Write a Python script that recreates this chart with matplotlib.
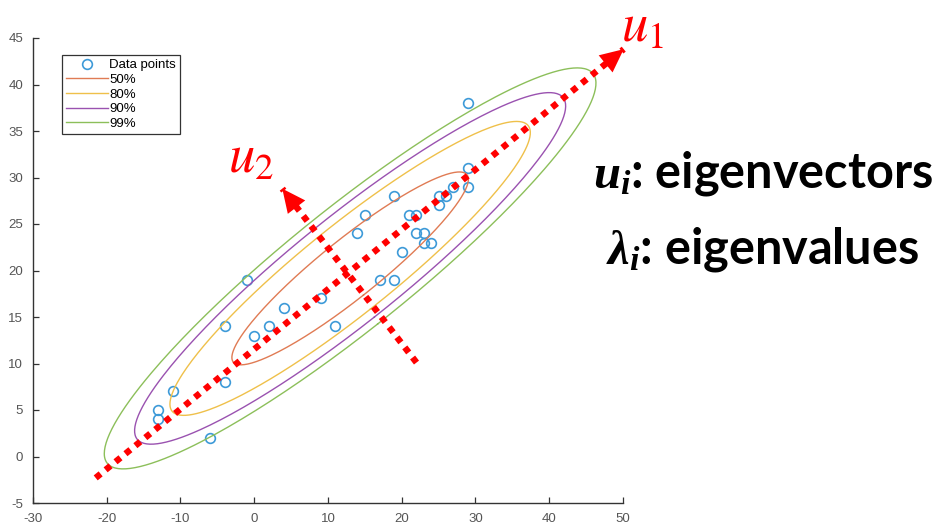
import numpy as np
import matplotlib
matplotlib.use("Agg")
import matplotlib.pyplot as plt

# data points
xs = np.array([29, 29, 29, 27, 19, 25, 26, 25, 15, 21, 22, 14, 22, 23, 23, 24,
               20, 17, 19, -1, 9, 4, -4, 2, 11, 0, -4, -11, -13, -13, -6])
ys = np.array([38, 31, 29, 29, 28, 28, 28, 27, 26, 26, 26, 24, 24, 24, 23, 23,
               22, 19, 19, 19, 17, 16, 14, 14, 14, 13, 8, 7, 5, 4, 2])

level_labels = ["50%", "80%", "90%", "99%"]
# squared Mahalanobis radius of each contour, as drawn in the picture
level_chi2 = [1.386, 3.219, 4.605, 5.991]
level_colors = ["#e07b54", "#efc04a", "#9a52b0", "#8cbf5a"]
point_color = "#3d9ad8"

# eigenvector arrows (drawn by hand on the slide)
u1_start, u1_tip = (-21.5, -2.3), (50.1, 43.8)
u2_start, u2_tip = (22.0, 10.1), (3.8, 28.8)

xticks = [-30, -20, -10, 0, 10, 20, 30, 40, 50]
yticks = [-5, 0, 5, 10, 15, 20, 25, 30, 35, 40, 45]

plt.rcParams['axes.unicode_minus'] = False
plt.rcParams['mathtext.fontset'] = 'stix'
plt.rcParams['mathtext.it'] = 'Liberation Serif:italic:bold'
plt.rcParams['mathtext.rm'] = 'Liberation Serif:bold'

fig = plt.figure(figsize=(9.48, 5.25), dpi=100)
ax = fig.add_axes([33/948, 22/525, 590/948, 465/525])

ax.plot(xs, ys, 'o', ms=7, mfc='none', mec=point_color, mew=1.2,
        label="Data points")

mu = np.array([xs.mean(), ys.mean()])
cov = np.cov(xs, ys)
vals, vecs = np.linalg.eigh(cov)
t = np.linspace(0, 2*np.pi, 300)
circ = np.vstack([np.cos(t), np.sin(t)])
for k2, lab, c in zip(level_chi2, level_labels, level_colors):
    e = vecs @ (np.sqrt(vals)[:, None] * circ) * np.sqrt(k2)
    ax.plot(mu[0] + e[0], mu[1] + e[1], color=c, lw=1.0, label=lab)

ax.set_xlim(-30, 50)
ax.set_ylim(-5, 45)
ax.set_xticks(xticks)
ax.set_yticks(yticks)
for s in ['top', 'right']:
    ax.spines[s].set_visible(False)
for s in ['left', 'bottom']:
    ax.spines[s].set_color('#333333')
    ax.spines[s].set_linewidth(1.0)
ax.tick_params(direction='in', length=4, width=0.9, color='#333333',
               labelcolor='#555555', labelsize=9.5, pad=7)
for lbl in ax.get_xticklabels() + ax.get_yticklabels():
    lbl.set_family('Liberation Sans')

leg = ax.legend(loc='upper left', bbox_to_anchor=(0.049, 0.963), borderaxespad=0,
                fancybox=False, edgecolor='#333333', framealpha=1,
                prop={'family': 'Liberation Sans', 'size': 9.5},
                handlelength=3.2, handletextpad=0.1, labelspacing=0.18,
                borderpad=0.3, numpoints=1)
leg.get_frame().set_linewidth(0.9)

# dotted red arrows
for st, tip in [(u1_start, u1_tip), (u2_start, u2_tip)]:
    ax.plot([st[0], tip[0]], [st[1], tip[1]], color='red', lw=4.6,
            linestyle=(0, (1, 1)), dash_capstyle='butt', clip_on=False, zorder=5)
    d = np.array(tip) - np.array(st)
    back = np.array(tip) - d * 0.08
    ax.annotate('', xy=tip, xytext=back,
                arrowprops=dict(arrowstyle='-|>,head_length=0.7,head_width=0.33',
                                mutation_scale=24, color='red', lw=0,
                                shrinkA=0, shrinkB=0),
                annotation_clip=False, zorder=6)

fig.text(621/948, 1 - 42/525, r'$u_1$', color='red', fontsize=38,
         math_fontfamily='stix', ha='left', va='baseline')
fig.text(228/948, 1 - 173/525, r'$u_2$', color='red', fontsize=38,
         math_fontfamily='stix', ha='left', va='baseline')

fig.text(763/948, 1 - 187/525, r'$u_i$: eigenvectors', math_fontfamily='custom',
         family='Lato', weight='bold', fontsize=35, ha='center', va='baseline')
fig.text(763/948, 1 - 263/525, r'$\lambda_i$: eigenvalues', math_fontfamily='custom',
         family='Lato', weight='bold', fontsize=35, ha='center', va='baseline')

fig.savefig('out.png', dpi=100)
